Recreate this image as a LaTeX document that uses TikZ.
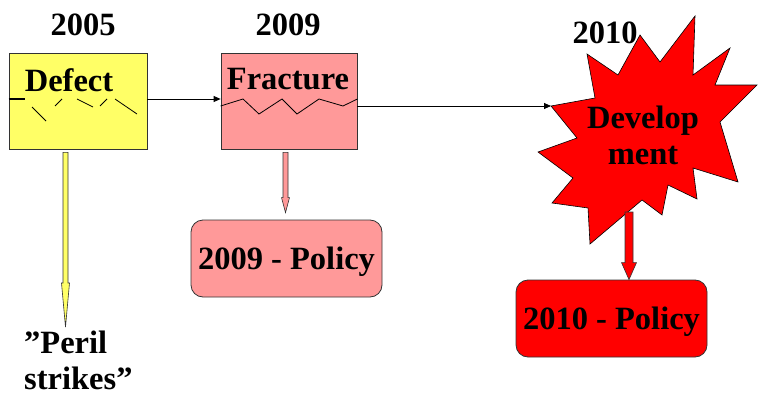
\documentclass[tikz,border=0pt]{standalone}
\usepackage{fontspec}
\setmainfont{Liberation Serif}
\usetikzlibrary{calc,positioning,arrows.meta}
\definecolor{defectyellow}{HTML}{FFFF66}
\definecolor{fracturepink}{HTML}{FF9999}
\definecolor{developred}{HTML}{FF0000}
\newcommand{\bigbf}{\fontsize{32.5}{36}\selectfont\bfseries}
% vertical block arrow: fill, from, to, half shaft, half head, head length
\newcommand{\blockarrow}[6]{%
  \draw[blockline, fill=#1] let \p1=(#2), \p2=(#3) in
    (\x1-#4,\y1) -- (\x1+#4,\y1) -- (\x1+#4,\y2+#6) -- (\x1+#5,\y2+#6)
    -- (\x1,\y2) -- (\x1-#5,\y2+#6) -- (\x1-#4,\y2+#6) -- cycle;}

\begin{document}
\begin{tikzpicture}%
  [x=1pt, y=-1pt, text=black, node font=\bigbf,
   year/.style={inner sep=0pt},
   box/.style={rectangle, draw=black!80, line width=0.8pt, inner sep=0pt},
   policy/.style={rectangle, rounded corners=12pt, draw=black!80,
                  line width=0.8pt, minimum width=191pt, minimum height=77pt,
                  inner sep=2pt, text depth=0pt},
   link/.style={draw=black, line width=0.8pt, -{Triangle[length=7pt,width=6pt]}},
   crack/.style={draw=black, line width=0.8pt},
   blockline/.style={draw=black!80, line width=0.6pt}]

  \useasboundingbox (0,0) rectangle (759,396);

  \node (y2005) at (83,25) [year] {2005};
  \node (y2009) at (288,25) [year] {2009};

  \node (defect) at (78,101) [box, fill=defectyellow,
        minimum width=138pt, minimum height=96pt] {};
  \node (fracture) at (289,101) [box, fill=fracturepink,
        minimum width=136pt, minimum height=96pt] {};

  \node (defecttext) at (69,80) [year] {Defect};
  \node (fracturetext) at (288,79) [year] {Fracture};

  % cracks
  \draw[crack, line width=1.8pt] (defect.west |- 0,99) -- (25,99);
  \foreach \a/\b in {{(32,107)}/{(46,121)}, {(55,106)}/{(62,99)},
                     {(77,99)}/{(93,107)}, {(100,106)}/{(107,99)},
                     {(115,99)}/{(137,114)}}
    \draw[crack] \a -- \b;
  \draw[crack] (fracture.west |- 0,106) -- (243,99) -- (259,114) -- (282,99)
        -- (297,114) -- (319,99) -- (343,106) -- (fracture.east |- 0,99);

  % burst
  \coordinate (startip) at (551,106);
  \draw[fill=developred, draw=black, line width=0.6pt]
    (startip) -- (595,98) -- (587,54) -- (618,75) -- (640,35) -- (660,62)
    -- (695,16) -- (693,75) -- (730,48) -- (715,85) -- (757,85) -- (720,122)
    -- (738,182) -- (693,168) -- (697,199) -- (668,185) -- (662,215)
    -- (642,200) -- (590,244) -- (588,208) -- (552,203) -- (573,178)
    -- (538,152) -- (577,138) -- cycle;
  \node (develop) at (643,135) [year, align=center] {Develop\\ment};
  \node (y2010) at (605,33) [year] {2010};

  \draw[link] ($(defect.east)+(0,-2)$) -- ($(fracture.west)+(0,-2)$);
  \draw[link] (fracture.east |- startip) -- (startip);

  \node (policy09) at (286.5,258.5) [policy, fill=fracturepink] {2009 - Policy};
  \node (policy10) at (611.5,318.5) [policy, fill=developred] {2010 - Policy};
  \node (peril) at (24,360) [year, anchor=west, align=left]
        {''Peril\\strikes''};

  \coordinate (periltip) at (65.5,327);
  \coordinate (burstfoot) at (629,212);

  \blockarrow{defectyellow}{$(defect.south)+(-12.5,3)$}{periltip}{2.5pt}{4pt}{44pt}
  \blockarrow{fracturepink}{$(fracture.south)+(-3.5,3)$}{$(policy09.north)+(0,-7)$}{2.5pt}{4pt}{15pt}
  \blockarrow{developred}{burstfoot}{policy10.north}{4pt}{7.5pt}{17pt}

\end{tikzpicture}
\end{document}
